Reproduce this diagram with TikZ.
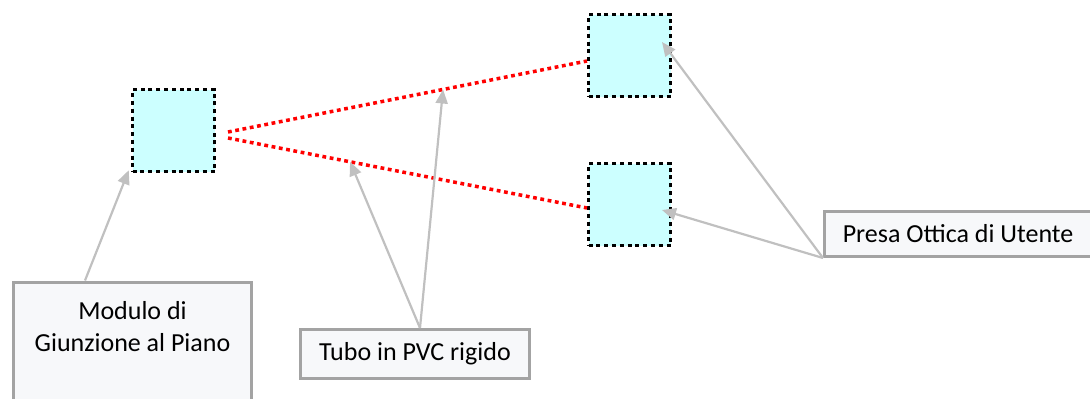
\documentclass[tikz,border=0pt]{standalone}
\usepackage{fontspec}
\setmainfont{Carlito}
\usetikzlibrary{arrows.meta,calc}
\definecolor{boxgray}{HTML}{A3A3A3}
\definecolor{boxfill}{HTML}{F7F8FA}
\definecolor{arrgray}{HTML}{C0C0C0}
\definecolor{sqfill}{HTML}{CCFFFF}
\definecolor{redline}{HTML}{FF0000}
\tikzset{
  sqbox/.style={draw=black, fill=sqfill, line width=3.5pt, dash pattern=on 4pt off 3.8pt,
    minimum width=82pt, minimum height=82pt, inner sep=0pt},
  labbox/.style={draw=boxgray, fill=boxfill, line width=3pt, inner sep=0pt,
    font=\fontsize{26}{32}\selectfont, align=center},
  pointer/.style={draw=arrgray, line width=2.2pt, -{Triangle[length=14pt,width=12pt]}},
  cable/.style={draw=redline, line width=3.5pt, dash pattern=on 3.8pt off 3.6pt}
}
\begin{document}
\begin{tikzpicture}[x=1pt,y=-1pt]
\useasboundingbox (0,0) rectangle (1090,399);
\clip (0,0) rectangle (1090,399);
% squares
\node[sqbox] (sq1) at (173.5,130.5) {};
\node[sqbox] (sq2) at (629.5,55.5) {};
\node[sqbox] (sq3) at (629.5,204.5) {};
% cables
\coordinate (c1) at (228,132);
\coordinate (c2) at (228,138);
\coordinate (e1) at (587,61);
\coordinate (e2) at (587,208);
\draw[cable] (c1) -- (e1);
\draw[cable] (c2) -- (e2);
\coordinate (p1) at ($(c1)!0.599!(e1)$);
\coordinate (p2) at ($(c2)!0.34!(e2)$);
% label boxes
\node[labbox, minimum width=238pt, minimum height=136pt,
  label={[anchor=north, yshift=-17pt, font=\fontsize{26}{32}\selectfont, align=center]north:Modulo di\\Giunzione al Piano}]
  (mod) at (132.5,350) {};
\node[labbox, minimum width=229pt, minimum height=49pt] (tubo) at (415,354) {Tubo in PVC rigido};
\node[labbox, minimum width=267pt, minimum height=45pt] (presa) at (958,234) {Presa Ottica di Utente};
% pointers
\coordinate (mstart) at ($(mod.north west)+(73,0)$);
\draw[pointer] (mstart) -- ($(sq1.south west)+(-2,-3)$);
\coordinate (tstart) at ($(tubo.north)+(5,0)$);
\draw[pointer] (tstart) -- (p2);
\draw[pointer] (tstart) -- (p1);
\draw[pointer] (presa.south west) -- (662,42);
\draw[pointer] (presa.south west) -- (662,210);
\end{tikzpicture}
\end{document}
